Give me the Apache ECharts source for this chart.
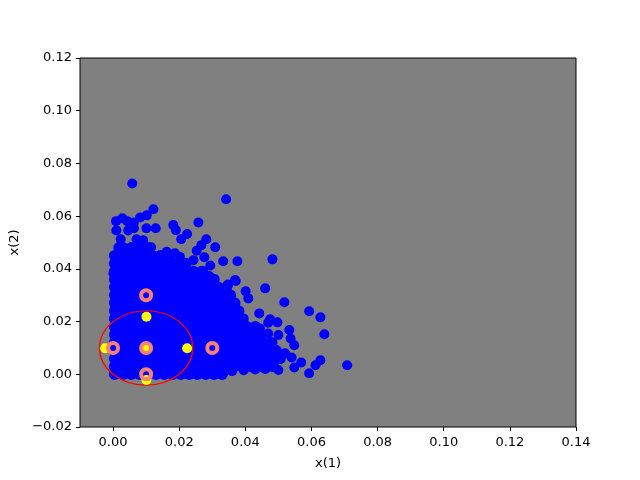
<!DOCTYPE html>
<html>
<head>
<meta charset="utf-8">
<style>
  html, body { margin: 0; padding: 0; background: #fff; }
  #chart { width: 640px; height: 480px; }
</style>
<script src="https://cdn.jsdelivr.net/npm/echarts@6/dist/echarts.min.js"></script>
</head>
<body>
<div id="chart"></div>
<script>
// tick labels
var xTicks = [0, 0.02, 0.04, 0.06, 0.08, 0.1, 0.12, 0.14]
var yTicks = [-0.02, 0, 0.02, 0.04, 0.06, 0.08, 0.1, 0.12]

// scattered blue points
var bluePoints = [
  [0.0058, 0.0724], [0.0342, 0.0664], [0.0122, 0.0626], [0.0102, 0.0603], [0.0082, 0.0595],
  [0.0028, 0.0592], [0.0009, 0.0581], [0.0043, 0.0581], [0.0063, 0.0576], [0.001, 0.0546],
  [0.0046, 0.0546], [0.0063, 0.0554], [0.0101, 0.0554], [0.0129, 0.0554], [0.0182, 0.0566],
  [0.019, 0.0547], [0.0258, 0.0576], [0.0224, 0.0532], [0.0206, 0.0512], [0.0282, 0.0512],
  [0.0267, 0.049], [0.0253, 0.0469], [0.0309, 0.0482], [0.0276, 0.0444], [0.0333, 0.0429],
  [0.0376, 0.0429], [0.0294, 0.0413], [0.0369, 0.0358], [0.0023, 0.0512], [0.0071, 0.0512],
  [0.0091, 0.0509], [0.0115, 0.0482], [0.0162, 0.0465], [0.0187, 0.0459], [0.0202, 0.0446],
  [0.0243, 0.0433], [0.0006, 0.0433], [0.0001, 0.0383], [0.0482, 0.0436], [0.0273, 0.0392],
  [0.0291, 0.0373], [0.0371, 0.0354], [0.0348, 0.0341], [0.046, 0.0326], [0.0401, 0.0315],
  [0.0409, 0.0288], [0.0518, 0.0273], [0.0593, 0.0239], [0.0627, 0.0216], [0.0442, 0.0231],
  [0.0639, 0.0152], [0.0475, 0.0209], [0.0469, 0.0196], [0.0497, 0.0197], [0.0533, 0.0168],
  [0.0537, 0.0136], [0.0548, 0.011], [0.05, 0.0149], [0.0708, 0.0034], [0.0627, 0.0053],
  [0.0612, 0.0034], [0.0593, 0.0004], [0.0569, 0.0045], [0.0548, 0.0026], [0.054, 0.0064],
  [0.052, 0.008], [0.05, 0.0016], [0.0444, 0.0174], [0.0469, 0.0155], [0.036, 0.0012],
  [0.0395, 0.0015], [0.043, 0.0018], [0.046, 0.002]
]

// the solid blue mass cannot be read point by point, these rows only cover its area
var fillRowY = [0, 0.003, 0.006, 0.009, 0.012, 0.015, 0.018, 0.021, 0.024, 0.027, 0.03, 0.033, 0.036, 0.039, 0.042, 0.045, 0.048]
var fillRowX = [
  [0.0005, 0.003, 0.0055, 0.008, 0.0105, 0.013, 0.0155, 0.018, 0.0205, 0.023, 0.0255, 0.028, 0.0305, 0.033],
  [0.0005, 0.0018, 0.0043, 0.0068, 0.0093, 0.0118, 0.0143, 0.0168, 0.0193, 0.0218, 0.0243, 0.0268, 0.0293, 0.0318, 0.0343, 0.0368, 0.0393, 0.0418, 0.0443, 0.0468, 0.0485],
  [0.0005, 0.003, 0.0055, 0.008, 0.0105, 0.013, 0.0155, 0.018, 0.0205, 0.023, 0.0255, 0.028, 0.0305, 0.033, 0.0355, 0.038, 0.0405, 0.043, 0.0455, 0.048, 0.0505],
  [0.0005, 0.0018, 0.0043, 0.0068, 0.0093, 0.0118, 0.0143, 0.0168, 0.0193, 0.0218, 0.0243, 0.0268, 0.0293, 0.0318, 0.0343, 0.0368, 0.0393, 0.0418, 0.0443, 0.0468, 0.0493],
  [0.0005, 0.003, 0.0055, 0.008, 0.0105, 0.013, 0.0155, 0.018, 0.0205, 0.023, 0.0255, 0.028, 0.0305, 0.033, 0.0355, 0.038, 0.0405, 0.043, 0.0455, 0.048],
  [0.0005, 0.0018, 0.0043, 0.0068, 0.0093, 0.0118, 0.0143, 0.0168, 0.0193, 0.0218, 0.0243, 0.0268, 0.0293, 0.0318, 0.0343, 0.0368, 0.0393, 0.0418, 0.0443],
  [0.0005, 0.003, 0.0055, 0.008, 0.0105, 0.013, 0.0155, 0.018, 0.0205, 0.023, 0.0255, 0.028, 0.0305, 0.033, 0.0355, 0.038, 0.0405, 0.043],
  [0.0005, 0.0018, 0.0043, 0.0068, 0.0093, 0.0118, 0.0143, 0.0168, 0.0193, 0.0218, 0.0243, 0.0268, 0.0293, 0.0318, 0.0343, 0.0368, 0.0393],
  [0.0005, 0.003, 0.0055, 0.008, 0.0105, 0.013, 0.0155, 0.018, 0.0205, 0.023, 0.0255, 0.028, 0.0305, 0.033, 0.0355, 0.038],
  [0.0005, 0.0018, 0.0043, 0.0068, 0.0093, 0.0118, 0.0143, 0.0168, 0.0193, 0.0218, 0.0243, 0.0268, 0.0293, 0.0318, 0.0343, 0.0368],
  [0.0005, 0.003, 0.0055, 0.008, 0.0105, 0.013, 0.0155, 0.018, 0.0205, 0.023, 0.0255, 0.028, 0.0305, 0.033, 0.0355],
  [0.0005, 0.0018, 0.0043, 0.0068, 0.0093, 0.0118, 0.0143, 0.0168, 0.0193, 0.0218, 0.0243, 0.0268, 0.0293, 0.0318, 0.0343],
  [0.0005, 0.003, 0.0055, 0.008, 0.0105, 0.013, 0.0155, 0.018, 0.0205, 0.023, 0.0255, 0.028, 0.0305],
  [0.0005, 0.0018, 0.0043, 0.0068, 0.0093, 0.0118, 0.0143, 0.0168, 0.0193, 0.0218, 0.0243, 0.0268],
  [0.0005, 0.003, 0.0055, 0.008, 0.0105, 0.013, 0.0155, 0.018, 0.0205, 0.022],
  [0.0005, 0.0018, 0.0043, 0.0068, 0.0093, 0.0118, 0.0143, 0.0168],
  [0.0018, 0.003, 0.0055, 0.008, 0.0105]
]

// yellow points and the salmon rings on top of them
var yellowPoints = [[-0.0024, 0.0099], [0.0101, 0.0218], [0.0224, 0.0099], [0.0101, -0.0022], [0.0101, 0.0099]]
var ringPoints = [[0, 0.01], [0.01, 0.01], [0.03, 0.01], [0.01, 0.03], [0.01, 0]]

// center x, center y, radius in data units
var redCircle = [[0.01, 0.01, 0.0141]]

var fillData = []
fillRowY.forEach(function (y, i) {
  fillRowX[i].forEach(function (x) {
    fillData.push([x, y])
  })
})

function tickText (v) {
  return v.toFixed(2).replace('-', '\u2212')
}

var fontName = '"DejaVu Sans"'
var myChart = echarts.init(document.getElementById('chart'), null, { renderer: 'canvas' })
myChart.setOption({
  animation: false,
  backgroundColor: '#ffffff',
  grid: {
    show: true,
    left: 80,
    right: 64,
    top: 58,
    bottom: 53,
    backgroundColor: '#808080',
    borderColor: '#000000',
    borderWidth: 1
  },
  xAxis: {
    type: 'value',
    min: -0.01,
    max: 0.14,
    name: 'x(1)',
    nameLocation: 'middle',
    nameGap: 30,
    nameTextStyle: { fontFamily: fontName, fontSize: 13, color: '#000' },
    splitLine: { show: false },
    axisLine: { show: false, onZero: false },
    axisTick: { show: true, length: 4, customValues: xTicks, lineStyle: { color: '#000' } },
    axisLabel: { customValues: xTicks, formatter: tickText, fontFamily: fontName, fontSize: 13, color: '#000', margin: 9 }
  },
  yAxis: {
    type: 'value',
    min: -0.02,
    max: 0.12,
    interval: 0.02,
    name: 'x(2)',
    nameLocation: 'middle',
    nameGap: 58,
    nameTextStyle: { fontFamily: fontName, fontSize: 13, color: '#000' },
    splitLine: { show: false },
    axisLine: { show: false, onZero: false },
    axisTick: { show: true, length: 4, customValues: yTicks, lineStyle: { color: '#000' } },
    axisLabel: { customValues: yTicks, formatter: tickText, fontFamily: fontName, fontSize: 13, color: '#000', margin: 8 }
  },
  series: [
    {
      type: 'scatter',
      data: fillData,
      symbolSize: 11.5,
      itemStyle: { color: '#0000ff', opacity: 1 },
      z: 2
    },
    {
      type: 'scatter',
      data: bluePoints,
      symbolSize: 10,
      itemStyle: { color: '#0000ff', opacity: 1 },
      z: 2
    },
    {
      type: 'custom',
      data: redCircle,
      coordinateSystem: 'cartesian2d',
      renderItem: function (params, api) {
        var center = api.coord([api.value(0), api.value(1)])
        var size = api.size([api.value(2), api.value(2)])
        return {
          type: 'ellipse',
          shape: { cx: center[0], cy: center[1], rx: size[0], ry: size[1] },
          style: { fill: null, stroke: '#ff0000', lineWidth: 1.2 }
        }
      },
      z: 3
    },
    {
      type: 'scatter',
      data: yellowPoints,
      symbolSize: 10,
      itemStyle: { color: '#ffff00', opacity: 1 },
      z: 4
    },
    {
      type: 'scatter',
      data: ringPoints,
      symbolSize: 10,
      itemStyle: { color: 'rgba(0,0,0,0)', borderColor: '#fa8072', borderWidth: 4, opacity: 1 },
      z: 5
    }
  ]
})
</script>
</body>
</html>
